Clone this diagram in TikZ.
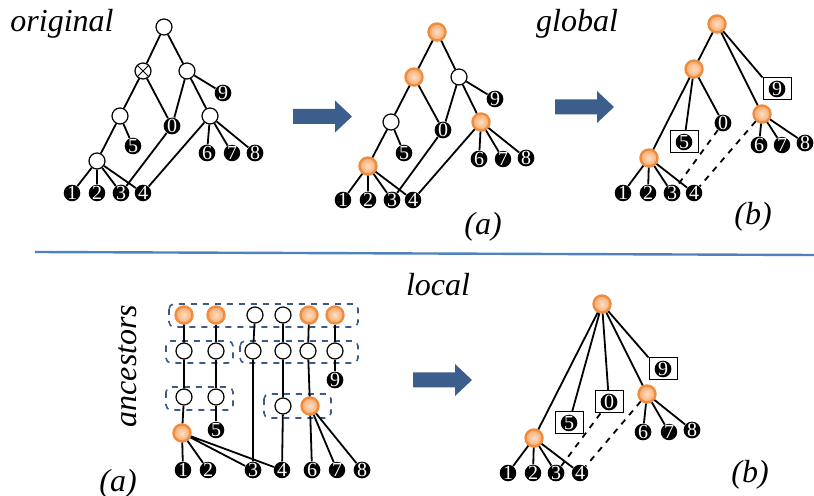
\documentclass[tikz,border=0pt]{standalone}
\usepackage{fontspec}
\setmainfont{Liberation Serif}
\usetikzlibrary{shadows}
\definecolor{arrblue}{RGB}{59,94,140}
\definecolor{grpblue}{RGB}{60,90,135}
\definecolor{lineblue}{RGB}{79,129,189}
\definecolor{orngline}{RGB}{240,140,60}
\definecolor{orngin}{RGB}{253,222,195}
\definecolor{orngout}{RGB}{248,170,110}
\tikzset{
  wnode/.style={circle, draw, line width=0.6pt, fill=white, minimum size=8pt, inner sep=0pt},
  onode/.style={circle, draw=orngline, line width=1.2pt, inner color=orngin, outer color=orngout, minimum size=8.5pt, inner sep=0pt, drop shadow={shadow xshift=0.4pt, shadow yshift=-0.6pt, opacity=0.25}},
  leaf/.style={circle, fill=black, text=white, minimum size=7.8pt, inner sep=0pt, font=\fontsize{10}{10}\selectfont},
  lbox/.style={draw, line width=0.5pt, minimum width=14pt, minimum height=11pt, inner sep=0pt},
  grpbox/.style={draw=grpblue, dashed, line width=0.8pt, rounded corners=2.5pt},
  lbl/.style={font=\fontsize{16}{19}\selectfont\itshape},
  edge/.style={line width=0.9pt},
}
\newcommand{\blockarrow}[2]{\fill[arrblue] (#1,#2-7.5) -- ++(42,0) -- ++(0,-8.5) -- ++(17,16) -- ++(-17,16) -- ++(0,-8.5) -- ++(-42,0) -- cycle;}
\begin{document}
\begin{tikzpicture}[x=0.5pt,y=-0.5pt]
\useasboundingbox (0,0) rectangle (814,496);
% labels
\node[lbl] (tOrig) at (62,24) {original};
\node[lbl] (tGlob) at (577,24) {global};
\node[lbl] (tLoc) at (438,285) {local};
\node[lbl, rotate=90] (tAnc) at (128,366) {ancestors};
\node[lbl] (ta1) at (483,227) {(a)};
\node[lbl] (tb1) at (753,217) {(b)};
\node[lbl] (ta2) at (118,484) {(a)};
\node[lbl] (tb2) at (750,475) {(b)};
\draw[lineblue, line width=1.2pt] (35,252) -- (814,255);
\blockarrow{293}{116.5}
\blockarrow{555}{107}
\blockarrow{413}{380}
% original tree
\node[wnode] (r1) at (164,27) {};
\node[wnode] (x1) at (143,71) {};
\draw (x1.45) -- (x1.225) (x1.135) -- (x1.-45);
\node[wnode] (p1) at (187,71) {};
\node[wnode] (m1) at (120,116) {};
\node[wnode] (q1) at (210,116) {};
\node[wnode] (l1) at (97,161) {};
\node[leaf] (a9) at (223,93) {9};
\node[leaf] (a0) at (172,126) {0};
\node[leaf] (a5) at (133,146) {5};
\node[leaf] (a6) at (207,153) {6};
\node[leaf] (a7) at (232,153) {7};
\node[leaf] (a8) at (255,153) {8};
\node[leaf] (a1) at (72,193) {1};
\node[leaf] (a2) at (97,193) {2};
\node[leaf] (a3) at (121,193) {3};
\node[leaf] (a4) at (143,193) {4};
\draw[edge] (r1) -- (x1) (r1) -- (p1) (x1) -- (m1) (x1) -- (a0) (p1) -- (a0) (p1) -- (a9) (p1) -- (q1);
\draw[edge] (m1) -- (a5) (m1) -- (l1) (q1) -- (a6) (q1) -- (a7) (q1) -- (a8) (q1) -- (a4) (a0) -- (a3);
\draw[edge] (l1) -- (a1) (l1) -- (a2) (l1) -- (a3) (l1) -- (a4);
% tree (a)
\node[onode] (r2) at (437,32) {};
\node[onode] (x2) at (414,77) {};
\node[wnode] (p2) at (459,77) {};
\node[wnode] (m2) at (391,122) {};
\node[onode] (q2) at (481,122) {};
\node[onode] (l2) at (368,166) {};
\node[leaf] (b9) at (495,99) {9};
\node[leaf] (b0) at (443,130) {0};
\node[leaf] (b5) at (404,153) {5};
\node[leaf] (b6) at (479,159) {6};
\node[leaf] (b7) at (503,159) {7};
\node[leaf] (b8) at (526,158) {8};
\node[leaf] (b1) at (343,200) {1};
\node[leaf] (b2) at (368,200) {2};
\node[leaf] (b3) at (392,200) {3};
\node[leaf] (b4) at (413,200) {4};
\draw[edge] (r2) -- (x2) (r2) -- (p2) (x2) -- (m2) (x2) -- (b0) (p2) -- (b0) (p2) -- (b9) (p2) -- (q2);
\draw[edge] (m2) -- (b5) (m2) -- (l2) (q2) -- (b6) (q2) -- (b7) (q2) -- (b8) (q2) -- (b4) (b0) -- (b3);
\draw[edge] (l2) -- (b1) (l2) -- (b2) (l2) -- (b3) (l2) -- (b4);
% tree (b), global
\node[onode] (r3) at (717,24) {};
\node[onode] (x3) at (694,69) {};
\node[onode] (q3) at (762,114) {};
\node[onode] (l3) at (649,158) {};
\node[leaf] (c9) at (777,89) {9};
\node[lbox] (k9) at (777,89) {};
\node[leaf] (c0) at (723,123) {0};
\node[leaf] (c5) at (684,142) {5};
\node[lbox] (k5) at (684,142) {};
\node[leaf] (c6) at (759,145) {6};
\node[leaf] (c7) at (782,145) {7};
\node[leaf] (c8) at (805,143) {8};
\node[leaf] (c1) at (623,193) {1};
\node[leaf] (c2) at (648,193) {2};
\node[leaf] (c3) at (672,193) {3};
\node[leaf] (c4) at (694,193) {4};
\draw[edge] (r3) -- (x3) (r3) -- (q3) (r3) -- (k9.north west) (x3) -- (l3) (x3) -- (k5) (x3) -- (c0);
\draw[edge] (q3) -- (c6) (q3) -- (c7) (q3) -- (c8);
\draw[edge] (l3) -- (c1) (l3) -- (c2) (l3) -- (c3) (l3) -- (c4);
\draw[edge, dashed] (c0) -- (c3) (q3) -- (c4);
% ancestors, local
\draw[grpbox] (169,304) rectangle (358,327);
\draw[grpbox] (166,341) rectangle (233,363);
\draw[grpbox] (240,341) rectangle (358,363);
\draw[grpbox] (166,387) rectangle (233,410);
\draw[grpbox] (264,394) rectangle (331,418);
\node[onode] (u1) at (184,315) {};
\node[onode] (u2) at (216,315) {};
\node[wnode] (u3) at (255,315) {};
\node[wnode] (u4) at (283,315) {};
\node[onode] (u5) at (309,315) {};
\node[onode] (u6) at (335,315) {};
\node[wnode] (v1) at (184,351) {};
\node[wnode] (v2) at (216,351) {};
\node[wnode] (v3) at (253,351) {};
\node[wnode] (v4) at (283,351) {};
\node[wnode] (v5) at (308,351) {};
\node[wnode] (v6) at (335,351) {};
\node[wnode] (w1) at (184,397) {};
\node[wnode] (w2) at (216,397) {};
\node[wnode] (w4) at (283,406) {};
\node[onode] (w5) at (310,406) {};
\node[onode] (z1) at (182,433) {};
\node[leaf] (d9) at (335,380) {9};
\node[leaf] (d5) at (216,430) {5};
\node[leaf] (d1) at (183,470) {1};
\node[leaf] (d2) at (208,470) {2};
\node[leaf] (d3) at (253,470) {3};
\node[leaf] (d4) at (282,470) {4};
\node[leaf] (d6) at (312,470) {6};
\node[leaf] (d7) at (337,470) {7};
\node[leaf] (d8) at (362,470) {8};
\draw[edge] (u1) -- (v1) -- (w1) -- (z1) -- (d1);
\draw[edge] (z1) -- (d2) (z1) -- (d3) (z1) -- (d4);
\draw[edge] (u2) -- (v2) -- (w2) -- (d5);
\draw[edge] (u3) -- (v3) -- (d3);
\draw[edge] (u4) -- (v4) -- (w4) -- (d4);
\draw[edge] (u5) -- (v5) -- (w5) -- (d6);
\draw[edge] (w5) -- (d7) (w5) -- (d8);
\draw[edge] (u6) -- (v6) -- (d9);
% tree (b), local
\node[onode] (r4) at (602,304) {};
\node[onode] (q4) at (647,394) {};
\node[onode] (l4) at (534,438) {};
\node[leaf] (e9) at (663,369) {9};
\node[lbox] (k9b) at (663,369) {};
\node[leaf] (e0) at (609,402) {0};
\node[lbox] (k0b) at (609,402) {};
\node[leaf] (e5) at (569,423) {5};
\node[lbox] (k5b) at (569,423) {};
\node[leaf] (e6) at (643,432) {6};
\node[leaf] (e7) at (669,432) {7};
\node[leaf] (e8) at (692,430) {8};
\node[leaf] (e1) at (508,473) {1};
\node[leaf] (e2) at (533,473) {2};
\node[leaf] (e3) at (556,473) {3};
\node[leaf] (e4) at (580,473) {4};
\draw[edge] (r4) -- (l4) (r4) -- (k5b) (r4) -- (k0b) (r4) -- (q4) (r4) -- (k9b.north west);
\draw[edge] (q4) -- (e6) (q4) -- (e7) (q4) -- (e8);
\draw[edge] (l4) -- (e1) (l4) -- (e2) (l4) -- (e3) (l4) -- (e4);
\draw[edge, dashed] (k0b) -- (e3) (q4) -- (e4);
\end{tikzpicture}
\end{document}
